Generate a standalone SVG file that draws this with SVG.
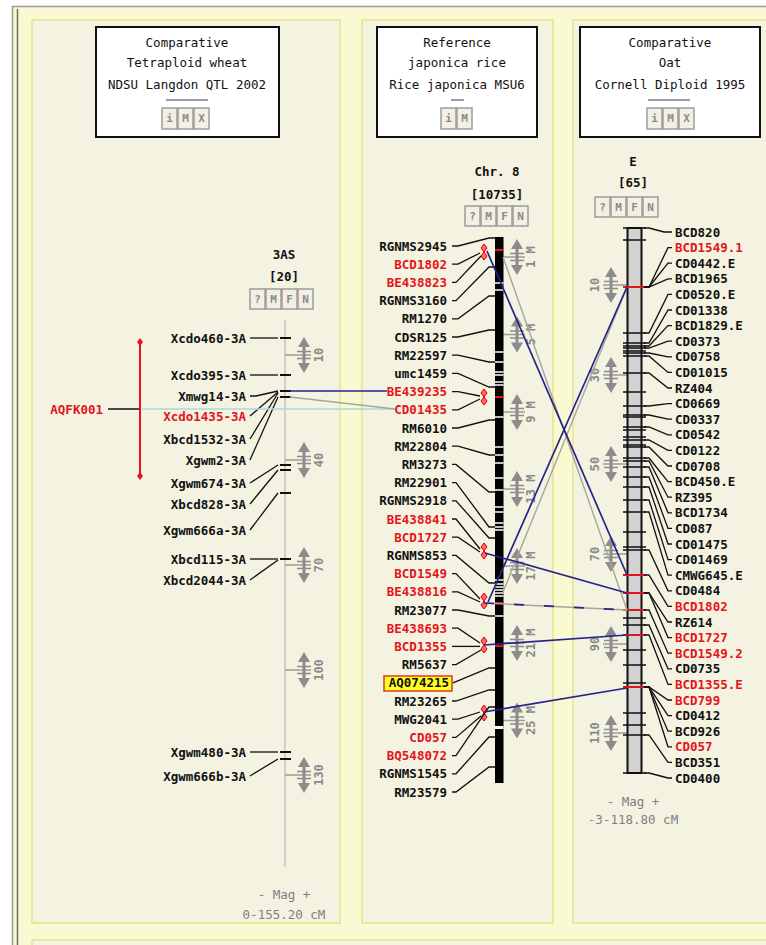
<svg xmlns="http://www.w3.org/2000/svg" xmlns:xlink="http://www.w3.org/1999/xlink" width="766" height="945" viewBox="0 0 766 945">
<style>
text{font-family:"DejaVu Sans Mono","Liberation Mono",monospace;font-size:12.5px}
.lb{font-weight:bold;fill:#111}
.le{text-anchor:end}
.red{fill:#e4141c}
.hd{fill:#111;text-anchor:middle}
.ti{font-weight:bold;fill:#111;text-anchor:middle}
.ll{fill:none;stroke:#111;stroke-width:1.3}
.btn{fill:#f2f0e2;stroke:#9c9c9c;stroke-width:1.5}
.bt{font-size:11px;fill:#8a8a8a;text-anchor:middle;font-weight:bold}
.num{font-size:12px;fill:#8a8a8a;font-weight:bold;text-anchor:middle}
.mag{fill:#808080;text-anchor:middle}
.panel{fill:#f4f2e0;stroke:#ece79c;stroke-width:2}
.hbox{fill:#fff;stroke:#111;stroke-width:2}
.tick{stroke:#9a9a9a;stroke-width:1.5}
.navy{fill:none;stroke:#24248c;stroke-width:1.7}
.gray{fill:none;stroke:#a6a69c;stroke-width:1.4}
</style>
<defs>
<g id="sw">
<path d="M-6,-8 L0,-18 L6,-8Z M-6,8 L0,18 L6,8Z" fill="#8c8c8c"/>
<rect x="-1.5" y="-9" width="3" height="18" fill="#8c8c8c"/>
<path d="M-7,-3.5 H7 M-7,3.5 H7" stroke="#8c8c8c" stroke-width="1.3"/>
</g>
<path id="dd" d="M0,-8 L3,-4 L0,0 L-3,-4Z M0,0 L3,4 L0,8 L-3,4Z" fill="#f66" stroke="#d80000" stroke-width="1"/>
</defs>

<rect x="0" y="0" width="766" height="945" fill="#fff"/>
<rect x="12" y="6" width="760" height="945" fill="#fafad2"/>
<path d="M12.5,6 V945 M12.5,6.5 H766" stroke="#9a9a9a" stroke-width="1.5" fill="none"/>
<path d="M17.5,9 V945" stroke="#6a6a6a" stroke-width="1.5"/>

<g id="panel-wheat"><rect class="panel" x="32" y="20" width="308" height="903"/></g>
<g id="panel-rice"><rect class="panel" x="362" y="20" width="191" height="903"/></g>
<g id="panel-oat"><rect class="panel" x="573" y="20" width="200" height="903"/></g>
<rect class="panel" x="32" y="940" width="740" height="20"/>

<g id="header-wheat">
<rect class="hbox" x="96" y="27" width="183" height="110"/>
<text class="hd" x="187" y="47">Comparative</text>
<text class="hd" x="187" y="67">Tetraploid wheat</text>
<text class="hd" x="187" y="89">NDSU Langdon QTL 2002</text>
<path d="M166,100 H208" stroke="#9c9c9c" stroke-width="2"/>
<rect class="btn" x="162" y="108" width="15" height="21"/><text class="bt" x="169.5" y="122">i</text>
<rect class="btn" x="178" y="108" width="15" height="21"/><text class="bt" x="185.5" y="122">M</text>
<rect class="btn" x="194" y="108" width="15" height="21"/><text class="bt" x="201.5" y="122">X</text>
</g>
<g id="header-rice">
<rect class="hbox" x="377" y="27" width="160" height="110"/>
<text class="hd" x="457" y="47">Reference</text>
<text class="hd" x="457" y="67">japonica rice</text>
<text class="hd" x="457" y="89">Rice japonica MSU6</text>
<path d="M451,100 H464" stroke="#9c9c9c" stroke-width="2"/>
<rect class="btn" x="441" y="108" width="15" height="21"/><text class="bt" x="448.5" y="122">i</text>
<rect class="btn" x="457" y="108" width="15" height="21"/><text class="bt" x="464.5" y="122">M</text>
</g>
<g id="header-oat">
<rect class="hbox" x="580" y="27" width="180" height="110"/>
<text class="hd" x="670" y="47">Comparative</text>
<text class="hd" x="670" y="67">Oat</text>
<text class="hd" x="670" y="89">Cornell Diploid 1995</text>
<path d="M648,100 H690" stroke="#9c9c9c" stroke-width="2"/>
<rect class="btn" x="647" y="108" width="15" height="21"/><text class="bt" x="654.5" y="122">i</text>
<rect class="btn" x="663" y="108" width="15" height="21"/><text class="bt" x="670.5" y="122">M</text>
<rect class="btn" x="679" y="108" width="15" height="21"/><text class="bt" x="686.5" y="122">X</text>
</g>

<!-- LEFT MAP 3AS -->
<g id="map-3AS">
<text class="ti" x="284" y="259">3AS</text>
<text class="ti" x="284" y="281">[20]</text>
<rect class="btn" x="250" y="289" width="15" height="20"/><text class="bt" x="257.5" y="303">?</text>
<rect class="btn" x="266" y="289" width="15" height="20"/><text class="bt" x="273.5" y="303">M</text>
<rect class="btn" x="282" y="289" width="15" height="20"/><text class="bt" x="289.5" y="303">F</text>
<rect class="btn" x="298" y="289" width="15" height="20"/><text class="bt" x="305.5" y="303">N</text>
<path d="M285,320 V867" stroke="#c4c4c4" stroke-width="1.5"/>
<path class="tick" d="M285,355 H311 M285,460 H311 M285,565 H311 M285,670 H311 M285,775 H311"/>
<use xlink:href="#sw" x="304" y="355"/><use xlink:href="#sw" x="304" y="460"/><use xlink:href="#sw" x="304" y="565"/><use xlink:href="#sw" x="304" y="670"/><use xlink:href="#sw" x="304" y="775"/>
<text class="num" transform="translate(323,355) rotate(-90)">10</text>
<text class="num" transform="translate(323,460) rotate(-90)">40</text>
<text class="num" transform="translate(323,565) rotate(-90)">70</text>
<text class="num" transform="translate(323,670) rotate(-90)">100</text>
<text class="num" transform="translate(323,775) rotate(-90)">130</text>
<path d="M280,338 H291 M280,375 H291 M280,391 H291 M280,397 H291 M280,465 H291 M280,470 H291 M280,493 H291 M280,559 H291 M280,752 H291 M280,759 H291" stroke="#111" stroke-width="2"/>
<g id="m-Xcdo460"><path class="ll" d="M250,338 H278"/><text class="lb le" x="246" y="342.5">Xcdo460-3A</text></g>
<g id="m-Xcdo395"><path class="ll" d="M250,375 H278"/><text class="lb le" x="246" y="379.5">Xcdo395-3A</text></g>
<g id="m-Xmwg14"><path class="ll" d="M250,396 H256 L278,391"/><text class="lb le" x="246" y="400.5">Xmwg14-3A</text></g>
<g id="m-Xcdo1435"><path class="ll" d="M250,416 L278,392"/><text class="lb le red" x="246" y="420.5">Xcdo1435-3A</text></g>
<g id="m-Xbcd1532"><path class="ll" d="M250,439 L278,393"/><text class="lb le" x="246" y="443.5">Xbcd1532-3A</text></g>
<g id="m-Xgwm2"><path class="ll" d="M250,460 L278,397"/><text class="lb le" x="246" y="464.5">Xgwm2-3A</text></g>
<g id="m-Xgwm674"><path class="ll" d="M250,483 L278,465"/><text class="lb le" x="246" y="487.5">Xgwm674-3A</text></g>
<g id="m-Xbcd828"><path class="ll" d="M250,504 L278,470"/><text class="lb le" x="246" y="508.5">Xbcd828-3A</text></g>
<g id="m-Xgwm666a"><path class="ll" d="M250,530 L278,493"/><text class="lb le" x="246" y="534.5">Xgwm666a-3A</text></g>
<g id="m-Xbcd115"><path class="ll" d="M250,559 H278"/><text class="lb le" x="246" y="563.5">Xbcd115-3A</text></g>
<g id="m-Xbcd2044"><path class="ll" d="M250,580 L278,560"/><text class="lb le" x="246" y="584.5">Xbcd2044-3A</text></g>
<g id="m-Xgwm480"><path class="ll" d="M250,752 H278"/><text class="lb le" x="246" y="756.5">Xgwm480-3A</text></g>
<g id="m-Xgwm666b"><path class="ll" d="M250,776 L278,759"/><text class="lb le" x="246" y="780.5">Xgwm666b-3A</text></g>
<g id="qtl-AQFK001">
<text class="lb le red" x="103" y="414">AQFK001</text>
<path d="M108,409 H139" stroke="#111" stroke-width="1.5"/>
<path d="M140,342 V476" stroke="#e4141c" stroke-width="2"/>
<path d="M140,338 L143,342 L140,346 L137,342Z M140,472 L143,476 L140,480 L137,476Z" fill="#e4141c"/>
</g>
<text class="mag" x="284" y="899">- Mag +</text>
<text class="mag" x="284" y="919">0-155.20 cM</text>
</g>

<!-- MIDDLE MAP Chr 8 -->
<g id="map-chr8">
<text class="ti" x="497" y="176">Chr. 8</text>
<text class="ti" x="497" y="199">[10735]</text>
<rect class="btn" x="465" y="206" width="15" height="20"/><text class="bt" x="472.5" y="220">?</text>
<rect class="btn" x="481" y="206" width="15" height="20"/><text class="bt" x="488.5" y="220">M</text>
<rect class="btn" x="497" y="206" width="15" height="20"/><text class="bt" x="504.5" y="220">F</text>
<rect class="btn" x="513" y="206" width="15" height="20"/><text class="bt" x="520.5" y="220">N</text>
<path class="tick" d="M503,257 H525 M503,334.5 H525 M503,412 H525 M503,489 H525 M503,566 H525 M503,643 H525 M503,720.5 H525"/>
<use xlink:href="#sw" x="517" y="257"/><use xlink:href="#sw" x="517" y="334.5"/><use xlink:href="#sw" x="517" y="412"/><use xlink:href="#sw" x="517" y="489"/><use xlink:href="#sw" x="517" y="566"/><use xlink:href="#sw" x="517" y="643"/><use xlink:href="#sw" x="517" y="720.5"/>
<text class="num" transform="translate(535,257) rotate(-90)">1 M</text>
<text class="num" transform="translate(535,334.5) rotate(-90)">5 M</text>
<text class="num" transform="translate(535,412) rotate(-90)">9 M</text>
<text class="num" transform="translate(535,489) rotate(-90)">13 M</text>
<text class="num" transform="translate(535,566) rotate(-90)">17 M</text>
<text class="num" transform="translate(535,643) rotate(-90)">21 M</text>
<text class="num" transform="translate(535,720.5) rotate(-90)">25 M</text>
<rect x="495" y="237" width="8.5" height="546" fill="#000"/>
<path d="M495,283H503.5M495,290H503.5M495,352H503.5M495,362H503.5M495,372H503.5M495,375H503.5M495,382H503.5M495,385H503.5M495,417H503.5M495,447H503.5M495,455H503.5M495,463H503.5M495,478H503.5M495,490H503.5M495,507H503.5M495,512H503.5M495,523H503.5M495,527H503.5M495,530H503.5M495,580H503.5M495,584H503.5M495,587H503.5M495,590H503.5M495,593H503.5M495,596H503.5M495,616H503.5" stroke="#fff" stroke-width="1.4"/>
<rect x="495" y="726" width="8.5" height="3" fill="#fff"/>
<path d="M495,250H503.5M495,397H503.5M495,603H503.5M495,646H503.5" stroke="#e4141c" stroke-width="2.2"/>
<use xlink:href="#dd" x="484" y="252"/><use xlink:href="#dd" x="484" y="397"/><use xlink:href="#dd" x="484" y="551"/><use xlink:href="#dd" x="484" y="601"/><use xlink:href="#dd" x="484" y="645"/><use xlink:href="#dd" x="484" y="713"/>
<g id="m-RGNMS2945"><path class="ll" d="M452,246 H458 L489,238 H495"/><text class="lb le" x="447" y="250.5">RGNMS2945</text></g>
<g id="m-BCD1802"><path class="ll" d="M452,264.2 H458 L480,253"/><text class="lb le red" x="447" y="268.7">BCD1802</text></g>
<g id="m-BE438823"><path class="ll" d="M452,282.4 H456 L481,256"/><text class="lb le red" x="447" y="286.9">BE438823</text></g>
<g id="m-RGNMS3160"><path class="ll" d="M452,300.6 H456 L489,267 H495"/><text class="lb le" x="447" y="305.1">RGNMS3160</text></g>
<g id="m-RM1270"><path class="ll" d="M452,318.8 H458 L489,296 H495"/><text class="lb le" x="447" y="323.3">RM1270</text></g>
<g id="m-CDSR125"><path class="ll" d="M452,337 H458 L489,330 H495"/><text class="lb le" x="447" y="341.5">CDSR125</text></g>
<g id="m-RM22597"><path class="ll" d="M452,355.2 H458 L489,362 H495"/><text class="lb le" x="447" y="359.7">RM22597</text></g>
<g id="m-umc1459"><path class="ll" d="M452,373.4 H458 L489,387 H495"/><text class="lb le" x="447" y="377.9">umc1459</text></g>
<g id="m-BE439235"><path class="ll" d="M452,391.6 H458 L480,396"/><text class="lb le red" x="447" y="396.1">BE439235</text></g>
<g id="m-CD01435"><path class="ll" d="M452,409.8 H458 L480,399"/><text class="lb le red" x="447" y="414.3">CD01435</text></g>
<g id="m-RM6010"><path class="ll" d="M452,428 H458 L489,420 H495"/><text class="lb le" x="447" y="432.5">RM6010</text></g>
<g id="m-RM22804"><path class="ll" d="M452,446.2 H458 L489,455 H495"/><text class="lb le" x="447" y="450.7">RM22804</text></g>
<g id="m-RM3273"><path class="ll" d="M452,464.4 H456 L489,492 H495"/><text class="lb le" x="447" y="468.9">RM3273</text></g>
<g id="m-RM22901"><path class="ll" d="M452,482.6 H456 L489,527 H495"/><text class="lb le" x="447" y="487.1">RM22901</text></g>
<g id="m-RGNMS2918"><path class="ll" d="M452,500.8 H456 L489,538 H495"/><text class="lb le" x="447" y="505.3">RGNMS2918</text></g>
<g id="m-BE438841"><path class="ll" d="M452,519 H456 L480,549"/><text class="lb le red" x="447" y="523.5">BE438841</text></g>
<g id="m-BCD1727"><path class="ll" d="M452,537.2 H458 L480,552"/><text class="lb le red" x="447" y="541.7">BCD1727</text></g>
<g id="m-RGNMS853"><path class="ll" d="M452,555.4 H456 L489,583 H495"/><text class="lb le" x="447" y="559.9">RGNMS853</text></g>
<g id="m-BCD1549"><path class="ll" d="M452,573.6 H456 L480,599"/><text class="lb le red" x="447" y="578.1">BCD1549</text></g>
<g id="m-BE438816"><path class="ll" d="M452,591.8 H458 L480,602"/><text class="lb le red" x="447" y="596.3">BE438816</text></g>
<g id="m-RM23077"><path class="ll" d="M452,610 H458 L489,616 H495"/><text class="lb le" x="447" y="614.5">RM23077</text></g>
<g id="m-BE438693"><path class="ll" d="M452,628.2 H458 L480,643"/><text class="lb le red" x="447" y="632.7">BE438693</text></g>
<g id="m-BCD1355"><path class="ll" d="M452,646.4 H480"/><text class="lb le red" x="447" y="650.9">BCD1355</text></g>
<g id="m-RM5637"><path class="ll" d="M452,664.6 H456 L481,650"/><text class="lb le" x="447" y="669.1">RM5637</text></g>
<g id="m-AQ074215"><path class="ll" d="M453,682.8 L489,668 H495"/><rect x="384" y="676" width="68" height="15" fill="#ffff20" stroke="#e03a1e" stroke-width="1.5"/><text class="lb le" x="449" y="687.3">AQ074215</text></g>
<g id="m-RM23265"><path class="ll" d="M452,701 H456 L489,690 H495"/><text class="lb le" x="447" y="705.5">RM23265</text></g>
<g id="m-MWG2041"><path class="ll" d="M452,719.2 H458 L480,712"/><text class="lb le" x="447" y="723.7">MWG2041</text></g>
<g id="m-CD057"><path class="ll" d="M452,737.4 H456 L481,716"/><text class="lb le red" x="447" y="741.9">CD057</text></g>
<g id="m-BQ548072"><path class="ll" d="M452,755.6 H456 L489,707 H495"/><text class="lb le red" x="447" y="760.1">BQ548072</text></g>
<g id="m-RGNMS1545"><path class="ll" d="M452,773.8 H456 L489,737 H495"/><text class="lb le" x="447" y="778.3">RGNMS1545</text></g>
<g id="m-RM23579"><path class="ll" d="M452,792 H456 L489,767 H495"/><text class="lb le" x="447" y="796.5">RM23579</text></g>
</g>

<!-- RIGHT MAP E -->
<g id="map-E">
<text class="ti" x="633" y="166">E</text>
<text class="ti" x="633" y="187">[65]</text>
<rect class="btn" x="595" y="197" width="15" height="20"/><text class="bt" x="602.5" y="211">?</text>
<rect class="btn" x="611" y="197" width="15" height="20"/><text class="bt" x="618.5" y="211">M</text>
<rect class="btn" x="627" y="197" width="15" height="20"/><text class="bt" x="634.5" y="211">F</text>
<rect class="btn" x="643" y="197" width="15" height="20"/><text class="bt" x="650.5" y="211">N</text>
<path class="tick" d="M603,285 H627 M603,375 H627 M603,464 H627 M603,554 H627 M603,644 H627 M603,733 H627"/>
<use xlink:href="#sw" x="611" y="285"/><use xlink:href="#sw" x="611" y="375"/><use xlink:href="#sw" x="611" y="464"/><use xlink:href="#sw" x="611" y="554"/><use xlink:href="#sw" x="611" y="644"/><use xlink:href="#sw" x="611" y="733"/>
<text class="num" transform="translate(599,285) rotate(-90)">10</text>
<text class="num" transform="translate(599,375) rotate(-90)">30</text>
<text class="num" transform="translate(599,464) rotate(-90)">50</text>
<text class="num" transform="translate(599,554) rotate(-90)">70</text>
<text class="num" transform="translate(599,644) rotate(-90)">90</text>
<text class="num" transform="translate(599,733) rotate(-90)">110</text>
<rect x="627.5" y="228" width="14" height="545" fill="#d2d2d2" stroke="#111" stroke-width="2"/>
<path d="M623,228H646M623,240H646M623,333H646M623,343H646M623,346H646M623,348H646M623,351H646M623,353H646M623,356H646M623,373H646M623,392H646M623,406H646M623,415H646M623,417H646M623,427H646M623,430H646M623,437H646M623,440H646M623,445H646M623,447H646M623,458H646M623,461H646M623,467H646M623,477H646M623,487H646M623,500H646M623,512H646M623,532H646M623,547H646M623,550H646M623,618H646M623,625H646M623,650H646M623,665H646M623,683H646M623,713H646M623,725H646M623,735H646M623,773H646" stroke="#111" stroke-width="1.5"/>
<path d="M623,287H646M623,575H646M623,593H646M623,610H646M623,635H646M623,687H646" stroke="#e4141c" stroke-width="2"/>
<g id="o-BCD820"><path class="ll" d="M672,232 H664 L649,228 H644"/><text class="lb" x="675" y="236.5">BCD820</text></g>
<g id="o-BCD1549.1"><path class="ll" d="M672,247.6 H668 L649,287 H644"/><text class="lb red" x="675" y="252.1">BCD1549.1</text></g>
<g id="o-CD0442.E"><path class="ll" d="M672,263.2 H668 L649,287 H644"/><text class="lb" x="675" y="267.7">CD0442.E</text></g>
<g id="o-BCD1965"><path class="ll" d="M672,278.8 H668 L649,287 H644"/><text class="lb" x="675" y="283.3">BCD1965</text></g>
<g id="o-CD0520.E"><path class="ll" d="M672,294.4 H668 L649,333 H644"/><text class="lb" x="675" y="298.9">CD0520.E</text></g>
<g id="o-CD01338"><path class="ll" d="M672,310 H668 L649,343 H644"/><text class="lb" x="675" y="314.5">CD01338</text></g>
<g id="o-BCD1829.E"><path class="ll" d="M672,325.6 H668 L649,346 H644"/><text class="lb" x="675" y="330.1">BCD1829.E</text></g>
<g id="o-CD0373"><path class="ll" d="M672,341.2 H668 L649,348 H644"/><text class="lb" x="675" y="345.7">CD0373</text></g>
<g id="o-CD0758"><path class="ll" d="M672,356.8 H668 L649,353 H644"/><text class="lb" x="675" y="361.3">CD0758</text></g>
<g id="o-CD01015"><path class="ll" d="M672,372.4 H668 L649,356 H644"/><text class="lb" x="675" y="376.9">CD01015</text></g>
<g id="o-RZ404"><path class="ll" d="M672,388 H668 L649,373 H644"/><text class="lb" x="675" y="392.5">RZ404</text></g>
<g id="o-CD0669"><path class="ll" d="M672,403.6 H668 L649,406 H644"/><text class="lb" x="675" y="408.1">CD0669</text></g>
<g id="o-CD0337"><path class="ll" d="M672,419.2 H668 L649,415 H644"/><text class="lb" x="675" y="423.7">CD0337</text></g>
<g id="o-CD0542"><path class="ll" d="M672,434.8 H668 L649,427 H644"/><text class="lb" x="675" y="439.3">CD0542</text></g>
<g id="o-CD0122"><path class="ll" d="M672,450.4 H668 L649,440 H644"/><text class="lb" x="675" y="454.9">CD0122</text></g>
<g id="o-CD0708"><path class="ll" d="M672,466 H668 L649,447 H644"/><text class="lb" x="675" y="470.5">CD0708</text></g>
<g id="o-BCD450.E"><path class="ll" d="M672,481.6 H668 L649,458 H644"/><text class="lb" x="675" y="486.1">BCD450.E</text></g>
<g id="o-RZ395"><path class="ll" d="M672,497.2 H668 L649,461 H644"/><text class="lb" x="675" y="501.7">RZ395</text></g>
<g id="o-BCD1734"><path class="ll" d="M672,512.8 H668 L649,467 H644"/><text class="lb" x="675" y="517.3">BCD1734</text></g>
<g id="o-CD087"><path class="ll" d="M672,528.4 H668 L649,477 H644"/><text class="lb" x="675" y="532.9">CD087</text></g>
<g id="o-CD01475"><path class="ll" d="M672,544 H668 L649,487 H644"/><text class="lb" x="675" y="548.5">CD01475</text></g>
<g id="o-CD01469"><path class="ll" d="M672,559.6 H668 L649,500 H644"/><text class="lb" x="675" y="564.1">CD01469</text></g>
<g id="o-CMWG645.E"><path class="ll" d="M672,575.2 H668 L649,512 H644"/><text class="lb" x="675" y="579.7">CMWG645.E</text></g>
<g id="o-CD0484"><path class="ll" d="M672,590.8 H668 L649,550 H644"/><text class="lb" x="675" y="595.3">CD0484</text></g>
<g id="o-BCD1802"><path class="ll" d="M672,606.4 H668 L649,575 H644"/><text class="lb red" x="675" y="610.9">BCD1802</text></g>
<g id="o-RZ614"><path class="ll" d="M672,622 H668 L649,593 H644"/><text class="lb" x="675" y="626.5">RZ614</text></g>
<g id="o-BCD1727"><path class="ll" d="M672,637.6 H668 L649,593 H644"/><text class="lb red" x="675" y="642.1">BCD1727</text></g>
<g id="o-BCD1549.2"><path class="ll" d="M672,653.2 H668 L649,610 H644"/><text class="lb red" x="675" y="657.7">BCD1549.2</text></g>
<g id="o-CD0735"><path class="ll" d="M672,668.8 H668 L649,625 H644"/><text class="lb" x="675" y="673.3">CD0735</text></g>
<g id="o-BCD1355.E"><path class="ll" d="M672,684.4 H668 L649,635 H644"/><text class="lb red" x="675" y="688.9">BCD1355.E</text></g>
<g id="o-BCD799"><path class="ll" d="M672,700 H668 L649,687 H644"/><text class="lb red" x="675" y="704.5">BCD799</text></g>
<g id="o-CD0412"><path class="ll" d="M672,715.6 H668 L649,687 H644"/><text class="lb" x="675" y="720.1">CD0412</text></g>
<g id="o-BCD926"><path class="ll" d="M672,731.2 H668 L649,687 H644"/><text class="lb" x="675" y="735.7">BCD926</text></g>
<g id="o-CD057"><path class="ll" d="M672,746.8 H668 L649,687 H644"/><text class="lb red" x="675" y="751.3">CD057</text></g>
<g id="o-BCD351"><path class="ll" d="M672,762.4 H668 L649,735 H644"/><text class="lb" x="675" y="766.9">BCD351</text></g>
<g id="o-CD0400"><path class="ll" d="M672,778 H668 L649,773 H644"/><text class="lb" x="675" y="782.5">CD0400</text></g>
<text class="mag" x="633" y="806">- Mag +</text>
<text class="mag" x="633" y="824">-3-118.80 cM</text>
</g>

<g id="connectors">
<path d="M142,409 H395" fill="none" stroke="#a9d8e6" stroke-width="1.7"/>
<path class="gray" d="M290,397 L395,409"/>
<path class="navy" d="M290,391 H387"/>
<path class="gray" d="M503,257 L627,610"/>
<path class="gray" d="M627,287 L503,592"/>
<path class="navy" d="M487,251 L627,575"/>
<path class="navy" d="M627,287 L488,602"/>
<path class="navy" d="M485,553 L627,593"/>
<path class="gray" d="M484,603 L627,610"/>
<path class="navy" d="M484,603 L627,610" stroke-dasharray="10 20"/>
<path class="navy" d="M484,645 L627,635"/>
<path class="navy" d="M484,712 L627,688"/>
</g>
</svg>
